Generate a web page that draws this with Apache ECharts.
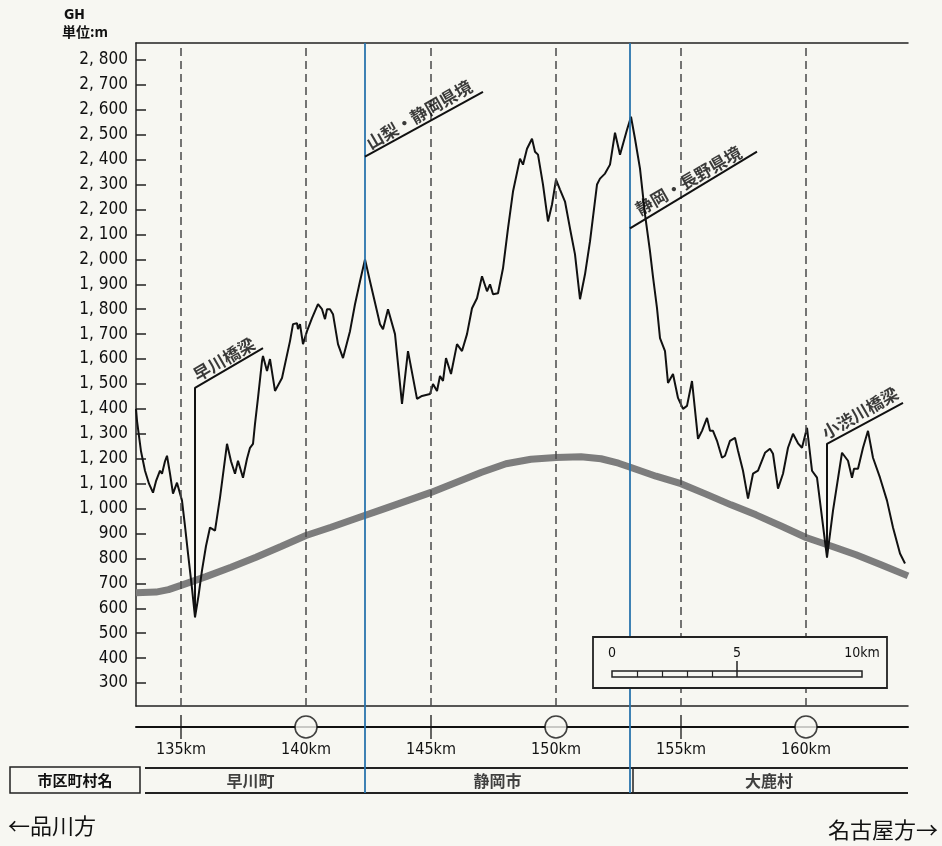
<!DOCTYPE html>
<html><head><meta charset="utf-8">
<script src="https://cdn.jsdelivr.net/npm/echarts@6/dist/echarts.min.js"></script>
<style>html,body{margin:0;padding:0;background:#f7f7f2;}#c{width:942px;height:846px;}</style>
</head><body><div id="c"></div>
<script>
// ---------- data ----------
const XMIN = 133.2, XMAX = 164.08;
const YMIN = 208, YMAX = 2868;
const yTicks = [300,400,500,600,700,800,900,1000,1100,1200,1300,1400,1500,1600,1700,1800,1900,2000,2100,2200,2300,2400,2500,2600,2700,2800];
const kmTicks = [135,140,145,150,155,160];
const stationKm = [140,150,160];
const markKm = [135,145,155];
const prefBorderKm = [142.36, 152.96];
const cityNames = ['早川町','静岡市','大鹿村'];
const cityBounds = [133.2, 142.36, 152.96, 164.08];

const profileKm = [133.2,133.24,133.4,133.56,133.72,133.88,134.0,134.16,134.24,134.36,134.44,134.56,134.68,134.84,135.04,135.16,135.28,135.44,135.56,135.7,135.84,136.0,136.16,136.36,136.56,136.84,137.0,137.16,137.28,137.48,137.64,137.76,137.88,137.96,138.08,138.24,138.28,138.44,138.56,138.76,139.04,139.36,139.48,139.64,139.68,139.76,139.88,140.04,140.24,140.36,140.48,140.64,140.76,140.84,140.96,141.08,141.28,141.48,141.76,141.96,142.16,142.36,142.56,142.84,142.96,143.08,143.16,143.28,143.56,143.84,144.08,144.44,144.64,144.96,145.08,145.24,145.36,145.48,145.6,145.8,146.04,146.24,146.44,146.64,146.84,147.04,147.24,147.36,147.48,147.68,147.88,148.08,148.28,148.56,148.68,148.84,149.04,149.16,149.28,149.48,149.68,149.84,150.0,150.16,150.36,150.56,150.76,150.96,151.16,151.36,151.64,151.76,151.96,152.16,152.36,152.56,152.84,153.0,153.16,153.36,153.56,153.76,153.88,154.04,154.16,154.36,154.48,154.68,154.88,155.08,155.24,155.44,155.68,155.84,156.04,156.16,156.28,156.44,156.64,156.76,156.96,157.16,157.28,157.48,157.68,157.88,158.08,158.36,158.56,158.68,158.88,159.08,159.28,159.48,159.68,159.84,160.04,160.24,160.44,160.84,161.08,161.44,161.68,161.84,161.92,162.08,162.28,162.48,162.68,162.96,163.24,163.48,163.76,163.96];
const profileM = [1400,1352,1230,1152,1100,1064,1110,1152,1140,1190,1212,1140,1060,1104,1032,930,820,680,564,650,752,850,924,912,1044,1260,1190,1140,1192,1124,1200,1244,1260,1340,1444,1592,1612,1552,1600,1472,1524,1672,1740,1744,1720,1740,1660,1712,1764,1792,1820,1800,1760,1800,1800,1780,1660,1604,1712,1820,1912,2000,1912,1792,1740,1720,1724,1800,1700,1420,1632,1440,1452,1460,1500,1472,1532,1512,1604,1540,1660,1632,1700,1804,1844,1932,1872,1900,1860,1864,1964,2124,2272,2404,2380,2444,2484,2432,2420,2300,2152,2220,2320,2280,2232,2124,2020,1840,1940,2072,2300,2324,2344,2380,2508,2420,2520,2572,2484,2364,2180,2032,1930,1804,1684,1632,1504,1540,1444,1400,1412,1512,1280,1312,1364,1312,1312,1272,1204,1212,1272,1284,1232,1152,1040,1140,1152,1224,1240,1220,1080,1140,1244,1300,1262,1244,1324,1152,1124,804,992,1224,1192,1124,1160,1160,1244,1312,1204,1124,1032,924,820,780];

const gradeKm = [133.2,134.0,134.5,135.0,136,137,138,139,140,141,142,143,144,145,146,147,148,149,150,151,151.8,152.5,153,154,155,156,157,158,159,160,161,162,163,164.08];
const gradeM  = [662,665,675,692,727,765,805,848,892,925,960,995,1030,1065,1105,1145,1180,1198,1205,1208,1200,1182,1165,1130,1100,1058,1015,975,930,884,850,815,775,730];

const annotTexts = ['早川橋梁','山梨・静岡県境','静岡・長野県境','小渋川橋梁'];
const annotLeaders = [
  [[135.56,564],[135.56,1484],[138.28,1644]],
  [[142.36,2412],[147.08,2672]],
  [[152.96,2124],[158.04,2432]],
  [[160.84,804],[160.84,1260],[163.88,1424]]
];
const annotLabelPos = [[136.72,1600],[144.52,2580],[155.3,2316],[162.16,1384]];

const scaleTicks = [1,2,3,4];
const scaleLabels = [0,5,10];

// ---------- chart ----------
const BG = '#f7f7f2';
const FONT = "'Liberation Sans Narrow','DejaVu Sans Condensed','Noto Sans CJK JP',sans-serif";
const JP = "'Noto Sans CJK JP',sans-serif";
const chart = echarts.init(document.getElementById('c'), null, {renderer:'canvas'});
const zip = (a,b)=>a.map((v,i)=>[v,b[i]]);
const fmtY = v => { const s=String(v); return s.length>3 ? s.slice(0,-3)+', '+s.slice(-3) : s; };
const hidden = {show:false};
const CLEAR = 'rgba(0,0,0,0)';

const series = [
  {type:'line', xAxisIndex:0, yAxisIndex:0, data:zip(gradeKm,gradeM), showSymbol:false, symbol:'none',
   lineStyle:{color:'#7d7d7d',width:7}, z:2, silent:true, animation:false},
  {type:'line', xAxisIndex:0, yAxisIndex:0, data:zip(profileKm,profileM), showSymbol:false, symbol:'none',
   lineStyle:{color:'#111',width:2}, z:4, silent:true, animation:false,
   markLine:{silent:true, symbol:'none', animation:false, label:{show:false},
     lineStyle:{color:'#4a4a4a',width:1.5,type:[8,5]}, data:kmTicks.map(v=>({xAxis:v}))}}
];
annotLeaders.forEach(pts=>{
  series.push({type:'line', xAxisIndex:0, yAxisIndex:0, data:pts, showSymbol:false, symbol:'none',
    lineStyle:{color:'#111',width:2}, z:5, silent:true, animation:false});
});
series.push({type:'scatter', xAxisIndex:0, yAxisIndex:0, symbolSize:1, itemStyle:{color:CLEAR}, z:9, silent:true, animation:false,
  data:annotLabelPos.map((p,i)=>({value:p,name:annotTexts[i]})),
  label:{show:true, position:'inside', formatter:'{b}', rotate:30, color:'#0a0a0a', fontSize:17, fontWeight:'bold', fontFamily:JP}});
// blue prefecture border lines on full-height grid (top layer)
series.push({type:'line', xAxisIndex:3, yAxisIndex:3, data:[[XMIN,-1]], showSymbol:false, symbol:'none', lineStyle:{opacity:0}, silent:true, animation:false, zlevel:1, z:12,
  markLine:{silent:true, symbol:'none', animation:false, label:{show:false},
    lineStyle:{color:'#2a74ad',width:1.8,type:'solid'}, data:prefBorderKm.map(v=>({xAxis:v}))}});
// km row
series.push({type:'scatter', xAxisIndex:2, yAxisIndex:1, data:markKm.map(v=>[v,0]), symbol:'rect', symbolSize:[1.6,24],
  itemStyle:{color:'#111'}, silent:true, animation:false, z:5});
series.push({type:'scatter', xAxisIndex:2, yAxisIndex:1, data:stationKm.map(v=>[v,0]), symbol:'circle', symbolSize:22,
  itemStyle:{color:BG,borderColor:'#111',borderWidth:1.6}, silent:true, animation:false, z:6});
// city names
series.push({type:'scatter', xAxisIndex:4, yAxisIndex:2, symbolSize:1, itemStyle:{color:CLEAR}, silent:true, animation:false, z:6,
  data:cityNames.map((n,i)=>({value:[(cityBounds[i]+cityBounds[i+1])/2,0.5],name:n})),
  label:{show:true,position:'inside',formatter:'{b}',color:'#111',fontSize:16,fontWeight:'bold',fontFamily:JP}});
// scale bar dummy
series.push({type:'line', xAxisIndex:5, yAxisIndex:4, data:[[0,-1]], showSymbol:false, symbol:'none', lineStyle:{opacity:0}, silent:true, animation:false, zlevel:1, z:3});

const option = {
  backgroundColor:BG,
  animation:false,
  textStyle:{fontFamily:FONT},
  grid:[
    {left:136, right:34, top:43, bottom:140},
    {left:136, right:34, top:707, height:20},
    {left:136, right:34, top:768, height:25},
    {left:136, right:34, top:43, bottom:53},
    {left:612, width:250, top:671, height:6, show:true, borderColor:'#222', borderWidth:1.5, backgroundColor:'transparent', zlevel:1, z:3}
  ],
  xAxis:[
    {gridIndex:0,type:'value',min:XMIN,max:XMAX,position:'bottom',axisLine:{show:true,onZero:false,lineStyle:{color:'#222',width:1.5}},axisTick:hidden,axisLabel:hidden,splitLine:hidden},
    {gridIndex:0,type:'value',min:XMIN,max:XMAX,position:'top',axisLine:{show:true,onZero:false,lineStyle:{color:'#222',width:1.5}},axisTick:hidden,axisLabel:hidden,splitLine:hidden},
    {gridIndex:1,type:'value',min:XMIN,max:XMAX,position:'bottom',axisLine:{show:true,onZero:false,lineStyle:{color:'#111',width:2}},axisTick:hidden,splitLine:hidden,
      axisLabel:{show:true,customValues:kmTicks,formatter:'{value}km',margin:15,color:'#111',fontSize:16,fontFamily:FONT}},
    {gridIndex:3,type:'value',min:XMIN,max:XMAX,show:false},
    {gridIndex:2,type:'value',min:XMIN,max:XMAX,show:false},
    {gridIndex:4,type:'value',min:0,max:10,position:'bottom',axisLine:hidden,splitLine:hidden,zlevel:1,z:3,
      axisTick:{show:true,inside:true,length:6,customValues:scaleTicks,lineStyle:{color:'#222',width:1.2}},
      axisLabel:hidden},
    {gridIndex:4,type:'value',min:0,max:10,position:'bottom',axisLine:hidden,splitLine:hidden,zlevel:1,z:3,
      axisTick:{show:true,inside:true,length:16,customValues:[5],lineStyle:{color:'#222',width:1.5}},
      axisLabel:{show:true,inside:true,margin:17,customValues:scaleLabels,formatter:v=>v===10?'10km':String(v),color:'#111',fontSize:14,fontFamily:FONT}}
  ],
  yAxis:[
    {gridIndex:0,type:'value',min:YMIN,max:YMAX,axisLine:{show:true,onZero:false,lineStyle:{color:'#222',width:1.5}},
      axisTick:{show:true,inside:true,length:10,customValues:yTicks,lineStyle:{color:'#222',width:1.5}},
      axisLabel:{show:true,customValues:yTicks,formatter:fmtY,margin:8,color:'#111',fontSize:17,fontFamily:FONT},splitLine:hidden},
    {gridIndex:1,type:'value',min:0,max:1,show:false},
    {gridIndex:2,type:'value',min:0,max:1,show:false},
    {gridIndex:3,type:'value',min:0,max:1,show:false},
    {gridIndex:4,type:'value',min:0,max:1,show:false}
  ],
  graphic:[
    {type:'text',left:64,top:8,style:{text:'GH',font:"bold 14px "+FONT,fill:'#111'}},
    {type:'text',left:62,top:25,style:{text:'単位:m',font:"bold 14px "+JP,fill:'#111'}},
    {type:'line',shape:{x1:145,y1:768,x2:908,y2:768},style:{stroke:'#222',lineWidth:2}},
    {type:'line',shape:{x1:145,y1:793,x2:908,y2:793},style:{stroke:'#222',lineWidth:2}},
    {type:'line',shape:{x1:633,y1:768,x2:633,y2:793},style:{stroke:'#222',lineWidth:1.5}},
    {type:'rect',shape:{x:10,y:767,width:130,height:26},style:{fill:'none',stroke:'#222',lineWidth:1.5}},
    {type:'text',x:75,y:780,style:{text:'市区町村名',font:"bold 15px "+JP,fill:'#111',textAlign:'center',textVerticalAlign:'middle'}},
    {type:'rect',zlevel:1,z:1,shape:{x:593,y:637,width:294,height:51},style:{fill:BG,stroke:'#222',lineWidth:1.8}},
    {type:'text',x:8,y:826,style:{text:'←品川方',font:"22px "+JP,fill:'#111',textVerticalAlign:'middle'}},
    {type:'text',x:938,y:830,style:{text:'名古屋方→',font:"22px "+JP,fill:'#111',textAlign:'right',textVerticalAlign:'middle'}}
  ],
  series:series
};
chart.setOption(option);
</script>
</body></html>
